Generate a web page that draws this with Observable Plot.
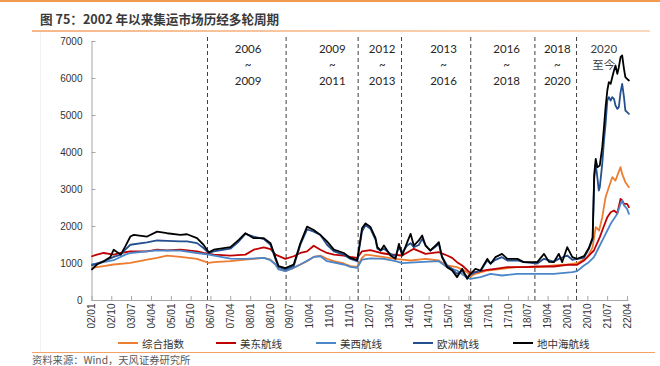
<!DOCTYPE html>
<html><head><meta charset="utf-8">
<script src="https://cdn.jsdelivr.net/npm/d3@7"></script>
<script src="https://cdn.jsdelivr.net/npm/@observablehq/plot@0.6"></script>
<style>
body{margin:0;background:#fff;}
#wrap{position:relative;width:660px;height:366px;overflow:hidden;font-family:"Noto Sans CJK SC",sans-serif;}
.topbar{position:absolute;left:0;top:0;width:660px;height:1.5px;background:#F29A4E;}
.title{position:absolute;left:40px;top:10px;font-size:12.6px;font-weight:bold;color:#3a3a3a;line-height:18px;white-space:nowrap;}
.underline{position:absolute;left:32px;top:30px;width:618px;height:1.5px;background:linear-gradient(to right,#F6B88A,#FBD9BE);}
.faint{position:absolute;left:40px;top:32px;width:1px;height:320px;background:#f2f2f2;}
#chart{position:absolute;left:0;top:32px;}
.leg{position:absolute;top:335px;height:16px;display:flex;align-items:center;font-size:10.5px;color:#333;white-space:nowrap;}
.leg span.sw{display:inline-block;width:20px;height:2px;margin-right:4px;}
.bottomline{position:absolute;left:32px;top:352px;width:623px;height:1px;background:#F2A368;}
.source{position:absolute;left:32px;top:354px;font-size:10.3px;color:#5a5a5a;line-height:11px;white-space:nowrap;}
</style></head><body>
<div id="wrap">
 <div class="topbar"></div>
 <div class="title">图 75：2002 年以来集运市场历经多轮周期</div>
 <div class="underline"></div>
 <div class="faint"></div>
 <div id="chart"></div>
 <div id="legend"></div>
 <div class="bottomline"></div>
 <div class="source">资料来源：Wind，天风证券研究所</div>
</div>
<script>
const seriesNames = ["综合指数","美东航线","美西航线","欧洲航线","地中海航线"];
const seriesColors = ["#ED7D31","#C00000","#4A86C8","#24508F","#000000"];

const composite = [["2002-01-01",884],["2002-06-12",929],["2002-10-28",973],["2003-06-15",1018],["2004-02-01",1107],["2004-06-18",1151],["2004-11-03",1213],["2005-05-06",1178],["2005-12-21",1124],["2006-06-01",1018],["2006-08-10",1036],["2007-03-27",1062],["2007-10-21",1107],["2008-07-01",1151],["2008-10-01",1107],["2008-12-10",973],["2009-01-21",858],["2009-04-24",796],["2009-08-18",884],["2009-11-18",973],["2010-02-18",1062],["2010-05-21",1178],["2010-08-21",1213],["2010-11-21",1124],["2011-02-24",1062],["2011-07-10",1000],["2011-10-10",929],["2012-01-12",911],["2012-03-18",1151],["2012-05-06",1240],["2012-07-12",1225],["2013-01-15",1171],["2013-06-24",1126],["2014-01-18",1081],["2014-08-12",1126],["2015-02-12",1081],["2015-06-06",946],["2015-10-21",901],["2016-03-10",766],["2016-04-24",649],["2016-07-01",721],["2016-12-12",811],["2017-07-03",856],["2018-02-01",901],["2018-11-03",901],["2019-06-18",946],["2019-12-21",973],["2020-05-06",1009],["2020-09-25",1171],["2020-12-06",1441],["2021-01-18",1982],["2021-03-06",1892],["2021-04-18",2252],["2021-06-03",2793],["2021-07-18",3063],["2021-09-03",3333],["2021-10-18",3243],["2021-11-12",3378],["2021-12-27",3604],["2022-01-18",3423],["2022-03-03",3198],["2022-04-21",3063]];

const usEast = [["2002-01-01",1196],["2002-03-10",1240],["2002-06-12",1284],["2002-10-28",1240],["2003-02-01",1284],["2003-06-15",1329],["2004-02-01",1329],["2004-06-18",1373],["2004-11-03",1356],["2005-05-06",1373],["2005-12-21",1329],["2006-03-21",1284],["2006-08-10",1240],["2007-03-27",1213],["2007-10-21",1240],["2008-02-12",1373],["2008-07-01",1436],["2008-10-01",1391],["2008-12-10",1240],["2009-04-24",1124],["2009-08-18",1196],["2009-11-18",1284],["2010-02-18",1329],["2010-05-21",1480],["2010-08-21",1373],["2010-11-21",1284],["2011-02-24",1240],["2011-07-10",1213],["2011-10-10",1178],["2012-01-12",1151],["2012-03-18",1329],["2012-07-12",1360],["2012-12-01",1284],["2013-04-15",1243],["2013-09-24",1216],["2014-03-03",1397],["2014-08-12",1261],["2015-02-12",1306],["2015-06-06",1216],["2015-08-15",1153],["2015-10-21",1036],["2016-01-01",946],["2016-04-24",739],["2016-07-01",766],["2016-12-12",829],["2017-04-03",856],["2017-09-15",901],["2018-05-01",901],["2018-11-03",919],["2019-06-18",919],["2019-12-21",964],["2020-05-06",964],["2020-08-09",1081],["2020-10-15",1216],["2020-12-24",1351],["2021-03-15",1712],["2021-04-18",1892],["2021-06-27",2252],["2021-08-12",2387],["2021-09-27",2432],["2021-11-12",2360],["2021-12-27",2748],["2022-01-18",2703],["2022-02-12",2613],["2022-03-27",2613],["2022-04-21",2523]];

const usWest = [["2002-01-01",973],["2002-06-12",1036],["2002-10-28",1089],["2003-04-06",1240],["2003-06-15",1284],["2004-02-01",1329],["2004-06-18",1356],["2005-05-06",1347],["2005-12-21",1284],["2006-06-01",1240],["2007-03-27",1133],["2007-10-21",1124],["2008-07-01",1151],["2008-10-01",1089],["2008-12-10",973],["2009-01-21",840],["2009-04-24",796],["2009-08-18",884],["2009-11-18",973],["2010-05-21",1178],["2010-08-21",1196],["2010-11-21",1062],["2011-07-10",973],["2011-10-10",911],["2012-01-12",884],["2012-03-18",1107],["2012-07-12",1140],["2013-01-15",1126],["2013-06-24",1063],["2013-09-24",1009],["2014-05-12",1036],["2015-02-12",1063],["2015-06-06",901],["2015-10-21",811],["2016-03-10",613],["2016-04-24",586],["2016-09-10",631],["2017-01-27",721],["2017-07-03",676],["2018-02-01",721],["2018-11-03",721],["2019-06-18",721],["2020-03-01",766],["2020-05-06",793],["2020-08-09",946],["2020-10-15",1036],["2020-12-24",1171],["2021-03-15",1486],["2021-05-12",1712],["2021-06-27",1892],["2021-08-12",2072],["2021-09-27",2207],["2021-11-12",2342],["2021-12-27",2613],["2022-01-18",2703],["2022-02-12",2568],["2022-03-27",2477],["2022-04-21",2342]];

const europe = [["2002-01-01",950],["2002-06-12",1062],["2002-10-28",1178],["2003-02-01",1240],["2003-04-06",1373],["2003-06-15",1507],["2004-02-01",1569],["2004-06-18",1622],["2004-11-03",1613],["2005-05-06",1596],["2005-08-06",1596],["2005-12-21",1551],["2006-03-21",1418],["2006-06-01",1284],["2006-08-10",1329],["2007-03-27",1400],["2007-07-21",1596],["2007-10-21",1800],["2008-02-12",1729],["2008-07-01",1658],["2008-10-01",1507],["2008-12-10",1107],["2009-01-21",911],["2009-04-24",840],["2009-08-18",929],["2009-11-18",1507],["2010-02-18",1925],["2010-05-21",1862],["2010-08-21",1773],["2010-11-21",1507],["2011-02-24",1329],["2011-07-10",1240],["2011-10-10",1124],["2012-01-12",1062],["2012-03-18",1862],["2012-05-06",2040],["2012-07-12",1940],["2012-09-21",1640],["2012-10-15",1400],["2012-12-01",1350],["2013-01-15",1400],["2013-04-15",1261],["2013-06-24",1200],["2013-08-10",1441],["2013-09-24",1300],["2013-12-03",1486],["2014-01-18",1550],["2014-03-03",1441],["2014-05-12",1500],["2014-06-27",1667],["2014-08-12",1500],["2014-10-18",1351],["2014-12-27",1450],["2015-02-12",1532],["2015-03-27",1200],["2015-06-06",946],["2015-08-15",850],["2015-10-21",721],["2016-01-01",800],["2016-03-10",631],["2016-04-24",700],["2016-07-01",766],["2016-09-10",800],["2016-12-12",1081],["2017-01-27",1000],["2017-04-03",1100],["2017-07-03",1171],["2017-09-15",1081],["2018-02-01",1081],["2018-05-01",1036],["2018-11-03",1000],["2019-02-03",1126],["2019-06-18",1050],["2019-08-27",1126],["2019-12-21",1216],["2020-03-01",1100],["2020-05-06",1126],["2020-08-09",1150],["2020-10-15",1396],["2020-12-06",1650],["2020-12-28",3300],["2021-01-18",3694],["2021-02-09",3333],["2021-03-01",2973],["2021-03-15",3063],["2021-04-18",3694],["2021-05-12",4324],["2021-06-03",4775],["2021-06-27",5405],["2021-07-18",5495],["2021-08-12",5405],["2021-09-03",5495],["2021-09-27",5450],["2021-10-18",5270],["2021-11-12",5180],["2021-12-03",5225],["2021-12-27",5630],["2022-01-18",5856],["2022-02-12",5495],["2022-03-03",5135],["2022-03-27",5090],["2022-04-21",5045]];

const mediterranean = [["2002-01-01",840],["2002-03-10",973],["2002-06-12",1062],["2002-09-12",1178],["2002-10-28",1373],["2003-02-01",1240],["2003-04-06",1462],["2003-06-15",1729],["2003-08-01",1773],["2004-02-01",1729],["2004-06-18",1862],["2004-11-03",1818],["2005-05-06",1773],["2005-08-06",1791],["2005-12-21",1684],["2006-03-21",1507],["2006-06-01",1302],["2006-08-10",1373],["2007-03-27",1444],["2007-07-21",1640],["2007-10-21",1818],["2008-02-12",1684],["2008-07-01",1684],["2008-10-01",1551],["2008-12-10",1151],["2009-01-21",929],["2009-04-24",876],["2009-08-18",973],["2009-11-18",1551],["2010-02-18",1996],["2010-05-21",1907],["2010-08-21",1773],["2010-11-21",1596],["2011-02-24",1373],["2011-07-10",1284],["2011-10-10",1151],["2012-01-12",1089],["2012-03-18",1951],["2012-05-06",2085],["2012-07-12",1990],["2012-09-21",1684],["2012-10-15",1450],["2012-12-01",1350],["2013-01-15",1486],["2013-04-15",1216],["2013-06-24",1126],["2013-08-10",1532],["2013-09-24",1216],["2013-12-03",1577],["2014-01-18",1802],["2014-03-03",1486],["2014-05-12",1622],["2014-06-27",1757],["2014-08-12",1486],["2014-10-18",1351],["2014-12-27",1486],["2015-02-12",1577],["2015-03-27",1171],["2015-06-06",901],["2015-08-15",811],["2015-10-21",631],["2016-01-01",856],["2016-03-10",586],["2016-04-24",721],["2016-07-01",856],["2016-09-10",811],["2016-12-12",1126],["2017-01-27",991],["2017-04-03",1171],["2017-07-03",1261],["2017-09-15",1126],["2018-02-01",1126],["2018-05-01",1036],["2018-11-03",1036],["2019-02-03",1261],["2019-04-12",1045],["2019-06-18",1036],["2019-08-27",1261],["2019-10-12",1036],["2019-12-21",1441],["2020-03-01",1171],["2020-05-06",1126],["2020-08-09",1200],["2020-10-15",1420],["2020-12-06",1700],["2020-12-28",3400],["2021-01-18",3829],["2021-02-09",3604],["2021-03-15",3649],["2021-04-18",4144],["2021-05-12",4685],["2021-06-03",5225],["2021-06-27",5676],["2021-07-18",5901],["2021-08-12",5856],["2021-09-03",6036],["2021-09-27",6216],["2021-10-18",6351],["2021-11-12",6126],["2021-12-03",6306],["2021-12-27",6577],["2022-01-18",6622],["2022-02-12",6261],["2022-03-03",6036],["2022-03-27",5991],["2022-04-21",5946]];

const yTicks = [0,1000,2000,3000,4000,5000,6000,7000];
const xTickDates = ["2002-01","2002-10","2003-07","2004-04","2005-01","2005-10","2006-07","2007-04","2008-01","2008-10","2009-07","2010-04","2011-01","2011-10","2012-07","2013-04","2014-01","2014-10","2015-07","2016-04","2017-01","2017-10","2018-07","2019-04","2020-01","2020-10","2021-07","2022-04"];
const cycleBreaks = ["2006-05-15","2009-05-05","2012-01-25","2013-09-15","2016-04-28","2018-10-01","2020-04-28"];
const cycleLabels = ["2006\n~\n2009","2009\n~\n2011","2012\n~\n2013","2013\n~\n2016","2016\n~\n2018","2018\n~\n2020","2020\n至今"];
const cycleLabelDates = ["2007-11-27","2011-02-01","2012-12-22","2015-04-18","2017-09-06","2019-08-06","2021-05-09"];

const allSeries = [composite, usEast, usWest, europe, mediterranean];
const rows = allSeries.flatMap((s, k) => s.map(([d, v]) => ({date: new Date(d), value: v, name: seriesNames[k]})));
const labelRows = cycleLabels.map((t, i) => ({date: new Date(cycleLabelDates[i]), text: t, two: t.split("\n").length === 2}));

const xStart = new Date("2002-01-01"), xEnd = new Date("2022-04-21");

const chart = Plot.plot({
  width: 660, height: 300,
  marginLeft: 91.5, marginRight: 31.6, marginTop: 9, marginBottom: 32,
  style: {fontFamily: '"Liberation Sans", Arial, sans-serif', fontSize: "10px", color: "#404040", background: "none", overflow: "visible"},
  x: {type: "utc", domain: [xStart, xEnd]},
  y: {domain: [0, 7000]},
  color: {domain: seriesNames, range: seriesColors},
  marks: [
    Plot.ruleX(cycleBreaks.map(d => new Date(d)), {y1: 0, y2: 7120, stroke: "#404040", strokeDasharray: "4,3", strokeWidth: 1}),
    Plot.ruleY([0], {stroke: "#A6A6A6"}),
    Plot.ruleX([xStart], {y1: 0, y2: 7000, stroke: "#A6A6A6"}),
    Plot.axisY({ticks: yTicks, tickSize: -4, tickPadding: 13.5, tickFormat: d => String(d), stroke: "#A6A6A6", fill: "#333", label: null}),
    Plot.axisX({ticks: xTickDates.map(d => new Date(d + "-01")), tickSize: -4, tickPadding: 7, tickRotate: -90, tickFormat: d3.utcFormat("%y/%m"), stroke: "#A6A6A6", fill: "#333", label: null}),
    Plot.line(rows, {x: "date", y: "value", z: "name", stroke: "name", strokeWidth: 1.8, strokeLinejoin: "round"}),
    Plot.text(labelRows.filter(d => !d.two), {x: "date", y: () => 6400, text: "text", lineAnchor: "middle", lineHeight: 1.42, fontSize: 11.5, fontFamily: "Lato, sans-serif", fill: "#262626"}),
    Plot.text(labelRows.filter(d => d.two), {x: "date", y: () => 6614, text: "text", lineAnchor: "middle", lineHeight: 1.42, fontSize: 11.5, fontFamily: "Lato, 'Noto Sans CJK SC', sans-serif", fill: "#404040"})
  ]
});
document.getElementById("chart").appendChild(chart);

const legendLeft = [118, 216, 316, 413, 513];
const legend = document.getElementById("legend");
seriesNames.forEach((n, i) => {
  const item = document.createElement("div");
  item.className = "leg";
  item.style.left = legendLeft[i] + "px";
  item.innerHTML = `<span class="sw" style="background:${seriesColors[i]}"></span>${n}`;
  legend.appendChild(item);
});
</script>
</body></html>
